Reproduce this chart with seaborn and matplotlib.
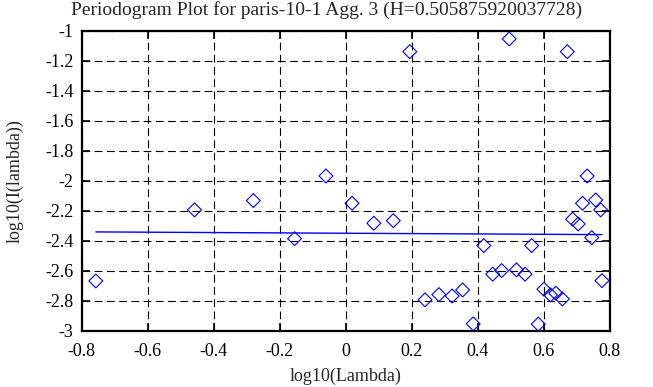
import matplotlib
matplotlib.use("Agg")
import matplotlib.pyplot as plt
import seaborn as sns
import pandas as pd

# periodogram points
log_lambda = [-0.757, -0.458, -0.280, -0.155, -0.060, 0.019, 0.085, 0.144,
              0.194, 0.495, 0.671, 0.731,
              0.240, 0.282, 0.322, 0.354, 0.386,
              0.418, 0.445, 0.472, 0.517, 0.543, 0.563, 0.583, 0.600, 0.620, 0.636, 0.656,
              0.687, 0.704, 0.717, 0.757, 0.772, 0.745, 0.776]
log_I = [-2.667, -2.193, -2.131, -2.385, -1.967, -2.149, -2.282, -2.265,
         -1.138, -1.053, -1.138, -1.967,
         -2.793, -2.758, -2.767, -2.727, -2.953,
         -2.431, -2.622, -2.598, -2.593, -2.622, -2.431, -2.955, -2.722, -2.760, -2.749, -2.787,
         -2.255, -2.287, -2.149, -2.127, -2.193, -2.378, -2.665]

# least squares fit line endpoints
fit_x = [-0.757, 0.776]
fit_y = [-2.340, -2.358]

x_ticks = [-0.8, -0.6, -0.4, -0.2, 0, 0.2, 0.4, 0.6, 0.8]
x_tick_labels = ["-0.8", "-0.6", "-0.4", "-0.2", "0", "0.2", "0.4", "0.6", "0.8"]
y_ticks = [-3, -2.8, -2.6, -2.4, -2.2, -2, -1.8, -1.6, -1.4, -1.2, -1]
y_tick_labels = ["-3", "-2.8", "-2.6", "-2.4", "-2.2", "-2", "-1.8", "-1.6", "-1.4", "-1.2", "-1"]

df = pd.DataFrame({"x": log_lambda, "y": log_I})
fit = pd.DataFrame({"x": fit_x, "y": fit_y})

sns.set_style("ticks")
plt.rcParams["font.family"] = ["Liberation Serif", "DejaVu Serif"]
plt.rcParams["axes.unicode_minus"] = False

fig = plt.figure(figsize=(6.53, 3.87), dpi=100)
ax = fig.add_axes([0.125, 0.145, 0.809, 0.775])

sns.scatterplot(data=df, x="x", y="y", ax=ax, marker="D", s=50,
                facecolor="none", edgecolor="#0000ff", linewidth=0.8, zorder=3)
sns.lineplot(data=fit, x="x", y="y", ax=ax, color="#0000ff", linewidth=1.0, zorder=2)

ax.set_xlim(-0.8, 0.8)
ax.set_ylim(-3, -1)
ax.set_xticks(x_ticks, x_tick_labels)
ax.set_yticks(y_ticks, y_tick_labels)
ax.grid(True, color="black", linestyle=(0, (7, 4)), linewidth=0.8)
ax.tick_params(direction="in", length=6, width=1.2, top=True, right=True,
               labelsize=13, colors="black")
ax.tick_params(axis="x", pad=9)
ax.tick_params(axis="y", pad=6)
for sp in ax.spines.values():
    sp.set_linewidth(1.6)
    sp.set_color("black")

ax.set_xlabel("log10(Lambda)", fontsize=13, labelpad=5)
ax.set_ylabel("log10(I(lambda))", fontsize=13, labelpad=15)
fig.text(0.5, 1 - 10 / 387, "Periodogram Plot for paris-10-1 Agg. 3 (H=0.505875920037728)",
         fontsize=14, ha="center", va="center")

fig.savefig("out.png", dpi=100)
